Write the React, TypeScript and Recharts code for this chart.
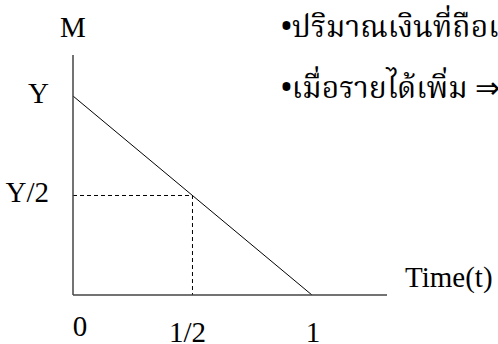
import { LineChart, Line, XAxis, YAxis, Customized } from 'recharts';

// money holding falls in a straight line from Y at t=0 to 0 at t=1
const timePoints = [0, 1];
const moneyHeld = [1, 0];

// dashed guide through the half-way point
const guideTime = [0, 0.5, 0.5];
const guideMoney = [0.5, 0.5, 0];

const xTicks = [0, 0.5, 1];
const xTickLabels = ['0', '1/2', '1'];
const yTicks = [0.5, 1];
const yTickLabels = ['Y/2', 'Y'];

const notes = ['•ปริมาณเงินที่ถือเฉลี่ยเท่ากับ Y/2', '•เมื่อรายได้เพิ่ม ⇒ ความต้องการถือเงินเพิ่ม'];

const FONT = '"Liberation Serif", "Times New Roman", serif';
const THAI_FONT = '"Noto Serif Thai", "Liberation Serif", serif';
const AXIS_COLOR = '#444';

const lineData = timePoints.map((t, i) => ({ t, m: moneyHeld[i] }));
const guideData = guideTime.map((t, i) => ({ t, g: guideMoney[i] }));

const XTick = ({ x, y, payload }: any) => {
    const idx = xTicks.indexOf(payload.value);
    const dx = payload.value === 0 ? 7 : payload.value === 0.5 ? -5 : 1;
    const dy = payload.value === 0 ? 33 : 39;
    return (
        <text x={x + dx} y={y + dy} textAnchor="middle" fontFamily={FONT} fontSize={29} fill="#000">
            {xTickLabels[idx]}
        </text>
    );
};

const YTick = ({ x, y, payload }: any) => {
    const idx = yTicks.indexOf(payload.value);
    return (
        <text x={x - 16} y={y + 7} textAnchor="end" fontFamily={FONT} fontSize={29} fill="#000">
            {yTickLabels[idx]}
        </text>
    );
};

const Notes = () => (
    <g>
        {notes.map((n, i) => (
            <text key={i} x={281} y={37 + i * 61} fontFamily={THAI_FONT} fontSize={30} fill="#000">
                {n}
            </text>
        ))}
    </g>
);

export default function App() {
    return (
        <div style={{ position: 'fixed', left: 0, top: 0, width: 498, height: 344, overflow: 'hidden', background: '#fff' }}>
            <LineChart width={498} height={344} margin={{ top: 55, right: 111, bottom: 0, left: 0 }}>
                <XAxis
                    dataKey="t"
                    type="number"
                    domain={[0, 1.314]}
                    allowDataOverflow
                    ticks={xTicks}
                    tick={<XTick />}
                    tickLine={false}
                    height={49}
                    stroke={AXIS_COLOR}
                    strokeWidth={1.5}
                    label={({ viewBox }: any) => (
                        <text x={viewBox.x + viewBox.width + 18} y={viewBox.y - 8} fontFamily={FONT} fontSize={29} fill="#000">
                            Time(t)
                        </text>
                    )}
                />
                <YAxis
                    type="number"
                    domain={[0, 1.206]}
                    allowDataOverflow
                    ticks={yTicks}
                    tick={<YTick />}
                    tickLine={false}
                    width={73}
                    stroke={AXIS_COLOR}
                    strokeWidth={1.5}
                    label={({ viewBox }: any) => (
                        <text x={viewBox.x + viewBox.width} y={viewBox.y - 18} textAnchor="middle" fontFamily={FONT} fontSize={29} fill="#000">
                            M
                        </text>
                    )}
                />
                <Line
                    data={guideData}
                    dataKey="g"
                    stroke="#000"
                    strokeWidth={1}
                    strokeDasharray="4 3"
                    dot={false}
                    isAnimationActive={false}
                />
                <Line
                    data={lineData}
                    dataKey="m"
                    stroke="#000"
                    strokeWidth={1}
                    dot={false}
                    isAnimationActive={false}
                />
                <Customized component={Notes} />
            </LineChart>
        </div>
    );
}
